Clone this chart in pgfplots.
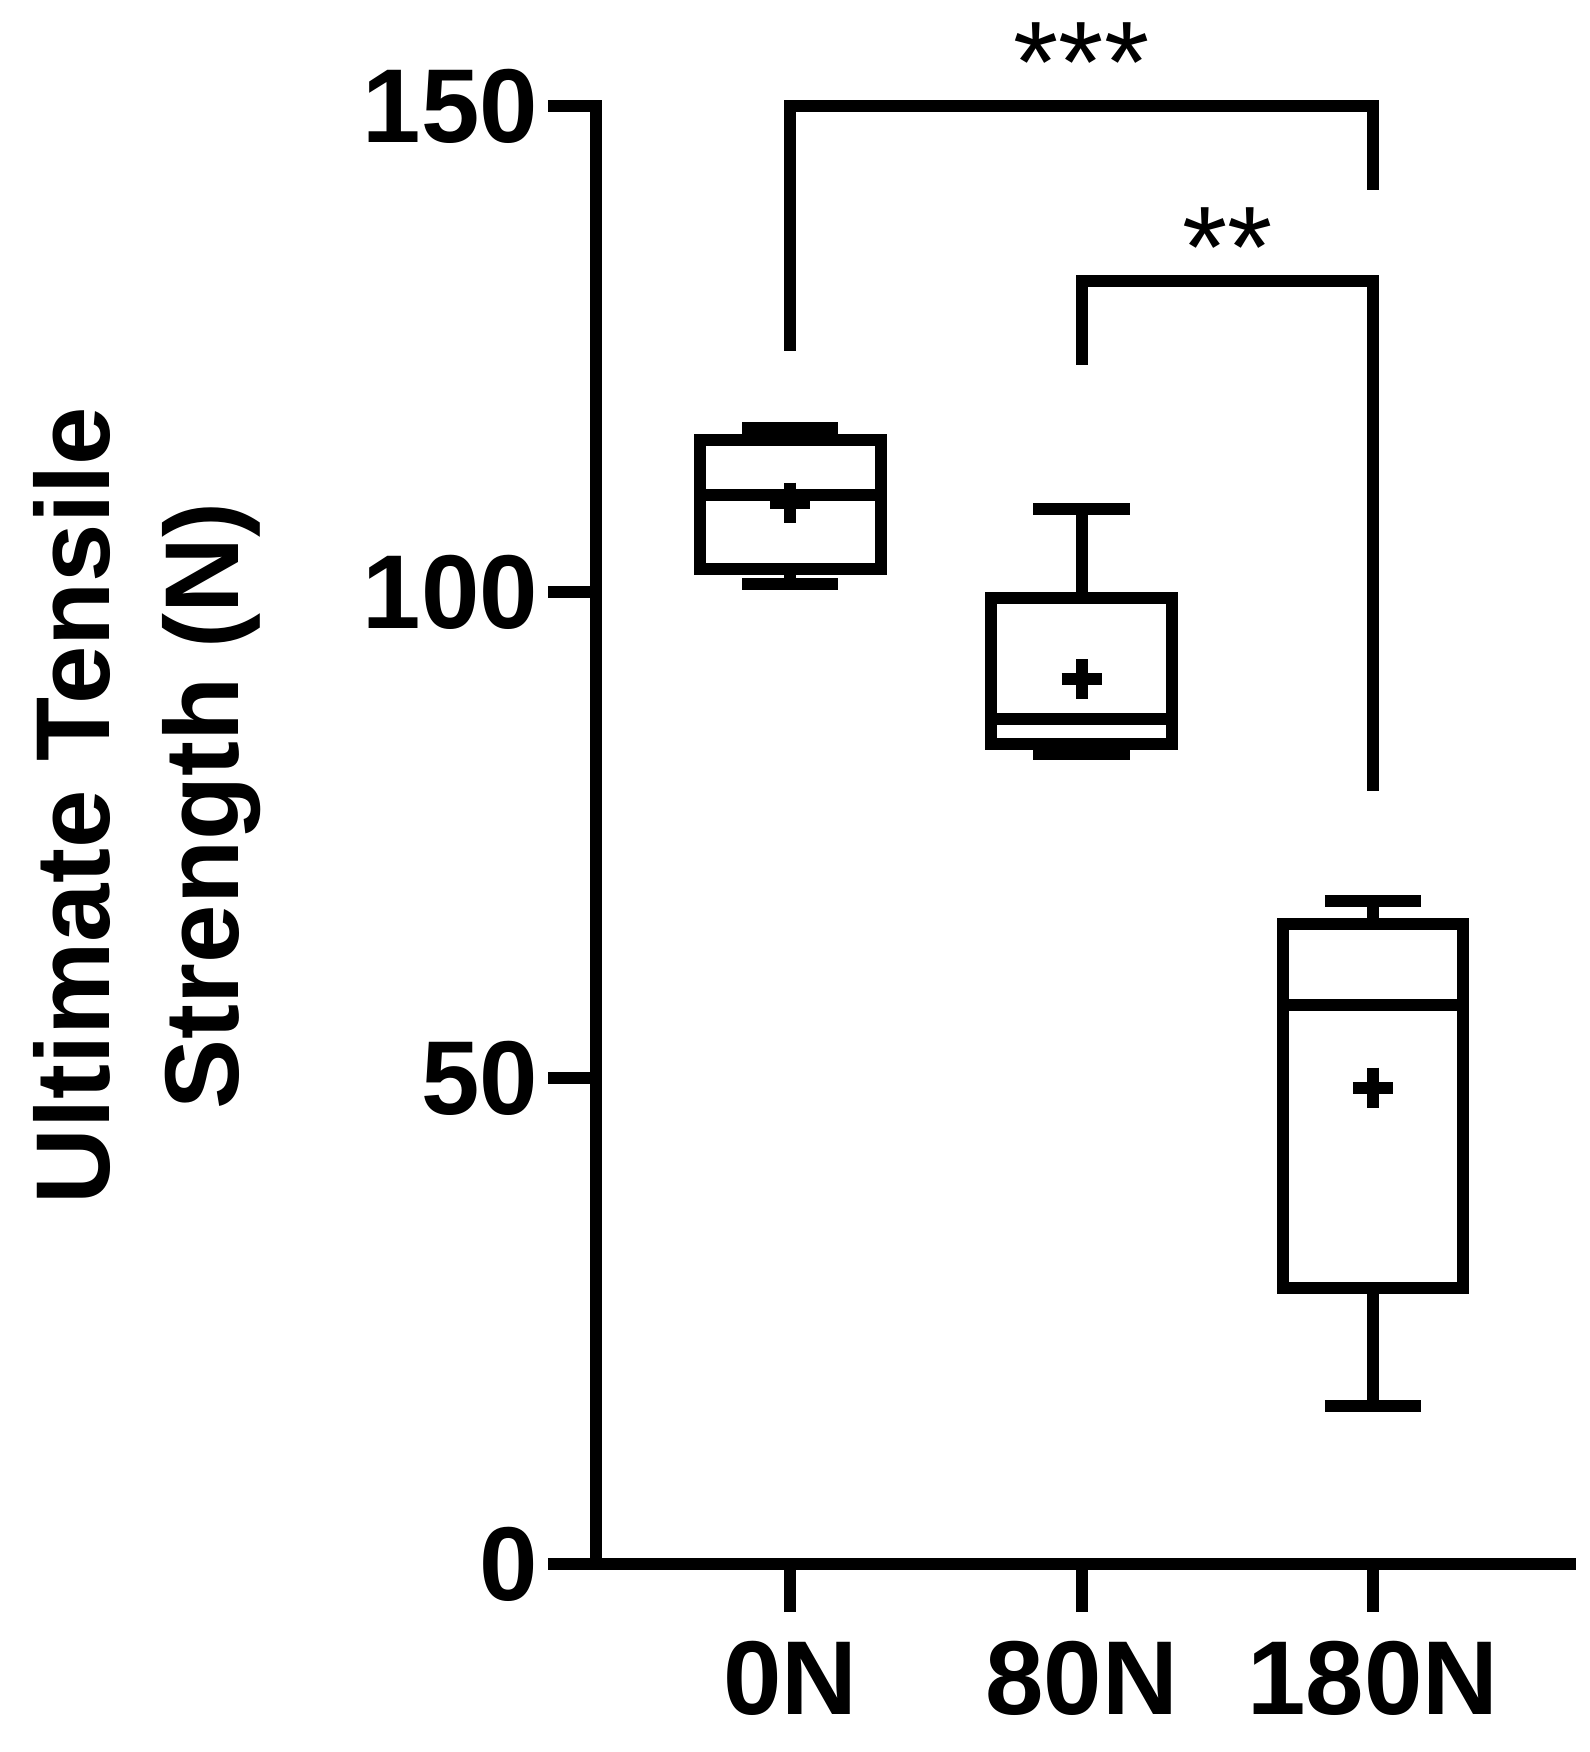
\documentclass[border=0pt]{standalone}
\usepackage{fontspec}
\setmainfont{Liberation Sans}
\usepackage{pgfplots}
\pgfplotsset{compat=1.18}

\begin{document}
\begin{tikzpicture}
% frame of the reference picture (1590 x 1752 px at 0.25pt/px)
\path[use as bounding box] (-149pt,-47pt) rectangle (248.5pt,391pt);
\begin{axis}[
  at={(0,0)}, anchor=south west,
  scale only axis, width=243.5pt, height=364.5pt,
  xmin=-0.667, xmax=2.677, ymin=0, ymax=150,
  axis lines*=left,
  axis line style={line width=3pt, black, line cap=rect},
  xtick pos=bottom, ytick pos=left,
  xtick={0,1,2}, xticklabels={0N,80N,180N},
  ytick={0,50,100,150},
  tick align=outside, major tick length=12pt,
  tick style={line width=3pt, black},
  /pgf/number format/assume math mode=true,
  ticklabel style={font=\fontsize{26.25}{30}\selectfont\bfseries, inner sep=0pt},
  yticklabel style={xshift=-2.3pt},
  xticklabel style={yshift=-7pt},
  ylabel={Ultimate Tensile\\Strength (N)},
  ylabel style={at={(axis description cs:-0.578,0.52)}, anchor=north,
    align=center, inner sep=0pt, font=\fontsize{26.25}{32.25}\selectfont\bfseries},
  clip=false,
  unbounded coords=jump,
  boxline/.style={black, line width=3pt, mark=none, sharp plot},
]
% 0N: whiskers 100.8 / 116.9, quartiles 102.4 / 115.6, median 110.0
\addplot[boxline] coordinates {
  (0,102.4) (0.31,102.4) (0.31,115.6) (-0.31,115.6) (-0.31,102.4) (0,102.4)
  (0,nan) (-0.31,110.0) (0.31,110.0)
  (0,nan) (0,115.6) (0,116.9) (0,nan) (-0.165,116.9) (0.165,116.9)
  (0,nan) (0,102.4) (0,100.8) (0,nan) (-0.165,100.8) (0.165,100.8)};
% 80N: whiskers 83.3 / 108.5, quartiles 84.4 / 99.4, median 86.9
\addplot[boxline] coordinates {
  (1,84.4) (1.31,84.4) (1.31,99.4) (0.69,99.4) (0.69,84.4) (1,84.4)
  (1,nan) (0.69,86.9) (1.31,86.9)
  (1,nan) (1,99.4) (1,108.5) (1,nan) (0.835,108.5) (1.165,108.5)
  (1,nan) (1,84.4) (1,83.3) (1,nan) (0.835,83.3) (1.165,83.3)};
% 180N: whiskers 16.3 / 68.2, quartiles 28.4 / 65.8, median 57.5
\addplot[boxline] coordinates {
  (2,28.4) (2.31,28.4) (2.31,65.8) (1.69,65.8) (1.69,28.4) (2,28.4)
  (2,nan) (1.69,57.5) (2.31,57.5)
  (2,nan) (2,65.8) (2,68.2) (2,nan) (1.835,68.2) (2.165,68.2)
  (2,nan) (2,28.4) (2,16.3) (2,nan) (1.835,16.3) (2.165,16.3)};
% means
\addplot[black, only marks, mark=+, mark size=5pt, line width=3pt]
  coordinates {(0,109.2) (1,91.0) (2,49.0)};
% significance brackets
\addplot[boxline] coordinates {(0,124.8) (0,150) (2,150) (2,141.4)};
\addplot[boxline] coordinates {(1,123.4) (1,132) (2,132) (2,79.5)};
\node[anchor=north, inner sep=0pt, font=\fontsize{29}{30}\selectfont]
  at (axis cs:1,158.6) {***};
\node[anchor=north, inner sep=0pt, font=\fontsize{29}{30}\selectfont]
  at (axis cs:1.5,139.6) {**};
\end{axis}
\end{tikzpicture}
\end{document}
